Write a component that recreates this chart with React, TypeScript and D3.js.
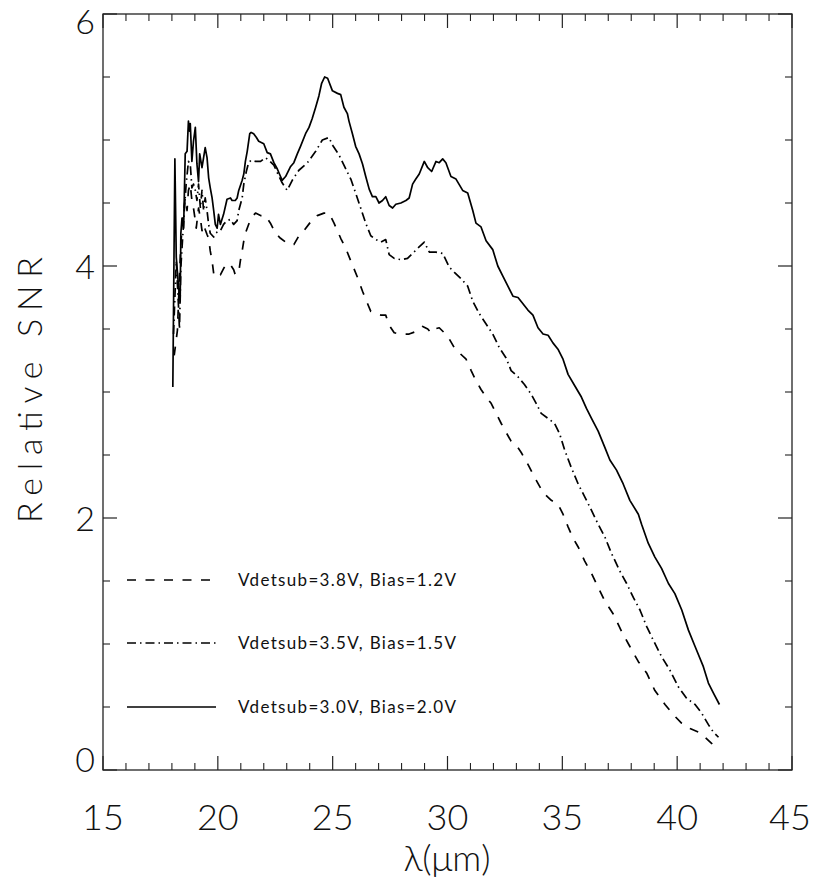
import React from "react";
import * as d3 from "d3";

// ---- data ----
const xTickValues = [15, 20, 25, 30, 35, 40, 45];
const yTickValues = [0, 2, 4, 6];
const xLabel = "λ(μm)";
const yLabel = "Relative SNR";
const legendLabels = [
  "Vdetsub=3.8V, Bias=1.2V",
  "Vdetsub=3.5V, Bias=1.5V",
  "Vdetsub=3.0V, Bias=2.0V",
];

// Series: Vdetsub=3.0V, Bias=2.0V (solid)
const solidX = [18.04,18.13,18.19,18.29,18.36,18.39,18.44,18.51,18.58,18.66,18.72,18.77,18.80,18.87,18.94,19.02,19.09,19.16,19.21,19.31,19.38,19.45,19.53,19.60,19.67,19.75,19.82,19.89,19.97,20.03,20.11,20.25,20.40,20.55,20.62,20.76,20.84,20.91,21.06,21.13,21.20,21.28,21.39,21.45,21.56,21.68,21.78,22.00,22.15,22.29,22.44,22.59,22.73,22.80,22.95,23.17,23.31,23.46,23.60,23.82,23.97,24.11,24.26,24.40,24.52,24.65,24.78,24.99,25.21,25.35,25.49,25.64,25.71,25.86,26.00,26.15,26.30,26.44,26.59,26.73,26.88,27.02,27.17,27.31,27.46,27.61,27.75,27.97,28.19,28.33,28.48,28.62,28.77,28.99,29.14,29.31,29.50,29.64,29.79,29.93,30.15,30.37,30.66,30.88,31.10,31.24,31.46,31.68,31.97,32.19,32.41,32.63,32.85,33.07,33.50,33.72,33.94,34.16,34.38,34.59,34.81,35.03,35.25,35.54,35.83,36.05,36.27,36.56,36.85,37.07,37.36,37.65,37.94,38.31,38.45,38.74,39.03,39.32,39.62,39.90,40.20,40.49,40.78,41.14,41.36,41.58,41.84];
const solidY = [3.04,4.85,4.07,3.83,3.72,4.26,4.38,4.30,4.89,4.91,5.15,5.07,5.13,4.83,4.99,5.10,4.81,4.67,4.89,4.78,4.86,4.94,4.86,4.70,4.62,4.54,4.44,4.33,4.30,4.41,4.33,4.41,4.53,4.54,4.52,4.52,4.54,4.60,4.68,4.73,4.83,4.91,5.05,5.06,5.05,5.02,4.99,4.97,4.90,4.89,4.82,4.77,4.71,4.68,4.71,4.79,4.82,4.89,4.95,5.05,5.10,5.17,5.26,5.35,5.45,5.50,5.49,5.39,5.37,5.36,5.26,5.21,5.15,5.05,4.95,4.89,4.81,4.71,4.61,4.55,4.55,4.50,4.52,4.55,4.48,4.46,4.49,4.50,4.52,4.54,4.65,4.69,4.73,4.83,4.78,4.75,4.83,4.82,4.85,4.82,4.71,4.69,4.60,4.58,4.44,4.34,4.31,4.20,4.13,4.00,3.92,3.84,3.76,3.75,3.65,3.61,3.51,3.46,3.45,3.39,3.34,3.26,3.14,3.05,2.96,2.87,2.79,2.69,2.56,2.46,2.38,2.27,2.14,2.03,1.95,1.80,1.69,1.60,1.48,1.40,1.27,1.11,0.98,0.82,0.69,0.61,0.52];

// Series: Vdetsub=3.5V, Bias=1.5V (dash-dot)
const dashDotX = [18.07,18.19,18.29,18.33,18.39,18.48,18.54,18.62,18.72,18.80,18.87,18.94,19.02,19.09,19.16,19.24,19.31,19.38,19.45,19.53,19.60,19.67,19.82,19.89,19.99,20.11,20.25,20.40,20.55,20.69,20.84,20.91,21.06,21.13,21.24,21.34,21.45,21.64,21.86,22.07,22.22,22.44,22.59,22.80,23.02,23.24,23.53,23.90,24.26,24.55,24.84,24.99,25.28,25.57,25.79,26.00,26.22,26.44,26.66,26.88,27.10,27.31,27.46,27.68,27.97,28.26,28.48,28.70,28.99,29.21,29.50,29.79,30.08,30.30,30.59,30.88,31.10,31.39,31.68,31.97,32.26,32.55,32.77,33.07,33.35,33.65,33.86,34.08,34.38,34.66,34.88,35.10,35.39,35.69,35.97,36.27,36.56,36.85,37.14,37.50,37.80,38.09,38.38,38.67,38.96,39.32,39.69,40.05,40.41,40.78,41.07,41.36,41.58,41.80];
const dashDotY = [3.46,4.04,3.67,3.50,3.99,4.26,4.44,4.65,4.83,4.81,4.62,4.65,4.60,4.52,4.65,4.46,4.60,4.44,4.54,4.44,4.33,4.26,4.23,4.26,4.27,4.28,4.33,4.36,4.37,4.33,4.36,4.44,4.54,4.65,4.75,4.82,4.84,4.83,4.83,4.86,4.84,4.80,4.74,4.66,4.60,4.68,4.76,4.82,4.91,5.00,5.02,4.96,4.88,4.77,4.69,4.58,4.46,4.34,4.24,4.21,4.19,4.21,4.09,4.06,4.05,4.06,4.10,4.14,4.19,4.11,4.11,4.10,3.99,3.95,3.90,3.84,3.72,3.62,3.54,3.46,3.35,3.27,3.17,3.12,3.06,2.98,2.91,2.83,2.79,2.75,2.67,2.54,2.40,2.27,2.17,2.06,1.95,1.85,1.72,1.58,1.48,1.37,1.27,1.14,1.03,0.90,0.79,0.66,0.57,0.52,0.45,0.36,0.30,0.26];

// Series: Vdetsub=3.8V, Bias=1.2V (dashed)
const dashedX = [18.10,18.24,18.33,18.39,18.48,18.58,18.66,18.72,18.80,18.87,18.94,19.02,19.06,19.16,19.24,19.31,19.38,19.45,19.53,19.60,19.67,19.75,19.82,19.89,19.99,20.11,20.25,20.40,20.55,20.69,20.76,20.91,20.98,21.06,21.13,21.24,21.34,21.49,21.64,21.86,22.07,22.29,22.51,22.73,22.95,23.17,23.31,23.53,23.75,24.04,24.33,24.62,24.84,25.06,25.35,25.57,25.79,26.08,26.30,26.52,26.66,27.10,27.31,27.46,27.68,28.04,28.33,28.62,28.92,29.14,29.28,29.42,29.64,29.86,30.08,30.30,30.52,30.81,31.03,31.24,31.46,31.68,31.90,32.12,32.34,32.55,32.77,32.99,33.21,33.52,33.86,34.17,34.52,34.81,35.03,35.25,35.47,35.69,35.97,36.27,36.56,36.85,37.21,37.58,37.94,38.31,38.67,39.03,39.47,39.83,40.20,40.56,40.93,41.21,41.51,41.80];
const dashedY = [3.29,3.49,3.91,4.18,4.38,4.54,4.44,4.60,4.65,4.52,4.46,4.36,4.30,4.46,4.38,4.28,4.33,4.29,4.25,4.22,4.12,4.04,3.94,3.92,3.94,3.93,3.98,4.02,4.01,3.97,3.93,3.95,4.04,4.12,4.20,4.28,4.33,4.39,4.42,4.40,4.40,4.34,4.26,4.22,4.19,4.17,4.17,4.24,4.28,4.35,4.40,4.42,4.42,4.34,4.22,4.14,4.04,3.91,3.80,3.70,3.64,3.61,3.61,3.53,3.47,3.46,3.46,3.48,3.52,3.50,3.47,3.50,3.51,3.47,3.42,3.35,3.31,3.26,3.17,3.09,3.02,2.96,2.91,2.83,2.75,2.68,2.61,2.58,2.52,2.42,2.30,2.20,2.14,2.11,2.03,1.93,1.84,1.77,1.66,1.56,1.45,1.34,1.24,1.10,0.98,0.86,0.77,0.63,0.52,0.44,0.37,0.33,0.30,0.26,0.21,0.16];

// ---- layout ----
const W = 813;
const H = 880;
const left = 103;
const right = 792;
const top = 14;
const bottom = 770;
const FONT = "Lato, 'DejaVu Sans', sans-serif";

const DASHED = "9,9.5";
const DASHDOT = "9,4,1.5,4";

export default function App() {
  const x = d3.scaleLinear().domain([15, 45]).range([left, right]);
  const y = d3.scaleLinear().domain([0, 6]).range([bottom, top]);

  const xMinor = d3.range(15, 46, 1).filter((v) => v % 5 !== 0);
  const yMinor = d3.range(0, 6.01, 0.5).filter((v) => Math.abs(v % 2) > 1e-6);

  const line = d3
    .line<[number, number]>()
    .x((d) => x(d[0]))
    .y((d) => y(d[1]));

  const zip = (xs: number[], ys: number[]) =>
    xs.map((v, i) => [v, ys[i]] as [number, number]);

  const series = [
    { pts: zip(dashedX, dashedY), dash: DASHED },
    { pts: zip(dashDotX, dashDotY), dash: DASHDOT },
    { pts: zip(solidX, solidY), dash: undefined as string | undefined },
  ];

  const legendYs = [580, 643, 707];
  const legendDashes = [DASHED, DASHDOT, undefined];

  const axisColor = "#222";
  const majorLen = 14;
  const minorLen = 7;

  const yLabelOffset = (v: number) => (v === 0 ? 2 : v === 6 ? 20 : 13);

  return (
    <svg
      width={W}
      height={H}
      style={{ display: "block", position: "absolute", left: 0, top: 0, background: "#fff" }}
    >
      <rect x={0} y={0} width={W} height={H} fill="#fff" />
      {/* frame */}
      <rect
        x={left}
        y={top}
        width={right - left}
        height={bottom - top}
        fill="none"
        stroke={axisColor}
        strokeWidth={1.3}
      />
      {/* x ticks bottom & top */}
      {xTickValues.map((v) => (
        <g key={"xt" + v}>
          <line x1={x(v)} x2={x(v)} y1={bottom} y2={bottom - majorLen} stroke={axisColor} strokeWidth={1.2} />
          <line x1={x(v)} x2={x(v)} y1={top} y2={top + majorLen} stroke={axisColor} strokeWidth={1.2} />
        </g>
      ))}
      {xMinor.map((v) => (
        <g key={"xm" + v}>
          <line x1={x(v)} x2={x(v)} y1={bottom} y2={bottom - minorLen} stroke={axisColor} strokeWidth={1.1} />
          <line x1={x(v)} x2={x(v)} y1={top} y2={top + minorLen} stroke={axisColor} strokeWidth={1.1} />
        </g>
      ))}
      {/* y ticks left & right */}
      {yTickValues.map((v) => (
        <g key={"yt" + v}>
          <line x1={left} x2={left + majorLen} y1={y(v)} y2={y(v)} stroke={axisColor} strokeWidth={1.2} />
          <line x1={right} x2={right - majorLen} y1={y(v)} y2={y(v)} stroke={axisColor} strokeWidth={1.2} />
        </g>
      ))}
      {yMinor.map((v) => (
        <g key={"ym" + v}>
          <line x1={left} x2={left + minorLen} y1={y(v)} y2={y(v)} stroke={axisColor} strokeWidth={1.1} />
          <line x1={right} x2={right - minorLen} y1={y(v)} y2={y(v)} stroke={axisColor} strokeWidth={1.1} />
        </g>
      ))}
      {/* tick labels */}
      {xTickValues.map((v) => (
        <text
          key={"xl" + v}
          x={x(v) - (v === 45 ? 2 : 0)}
          y={830}
          textAnchor="middle"
          fontFamily={FONT}
          fontWeight={300}
          fontSize={36}
          fill="#111"
        >
          {v}
        </text>
      ))}
      {yTickValues.map((v) => (
        <text
          key={"yl" + v}
          x={95}
          y={y(v) + yLabelOffset(v)}
          textAnchor="end"
          fontFamily={FONT}
          fontWeight={300}
          fontSize={34}
          fill="#111"
        >
          {v}
        </text>
      ))}
      {/* axis titles */}
      <text
        x={447}
        y={871}
        textAnchor="middle"
        fontFamily={FONT}
        fontWeight={300}
        fontSize={36}
        fill="#111"
      >
        {xLabel}
      </text>
      <text
        transform={`translate(42, 390) rotate(-90)`}
        textAnchor="middle"
        fontFamily={FONT}
        fontWeight={300}
        fontSize={34}
        fill="#111"
        textLength={266}
        lengthAdjust="spacing"
      >
        {yLabel}
      </text>
      {/* series */}
      {series.map((s, i) => (
        <path
          key={"s" + i}
          d={line(s.pts) || ""}
          fill="none"
          stroke="#000"
          strokeWidth={1.7}
          strokeDasharray={s.dash}
          strokeLinejoin="round"
        />
      ))}
      {/* legend */}
      {legendLabels.map((lab, i) => (
        <g key={"lg" + i}>
          <line
            x1={127}
            x2={216}
            y1={legendYs[i]}
            y2={legendYs[i]}
            stroke="#000"
            strokeWidth={1.6}
            strokeDasharray={legendDashes[i]}
          />
          <text
            x={238}
            y={legendYs[i] + 6}
            fontFamily={FONT}
            fontWeight={400}
            fontSize={17}
            fill="#111"
            textLength={218}
            lengthAdjust="spacing"
          >
            {lab}
          </text>
        </g>
      ))}
    </svg>
  );
}
